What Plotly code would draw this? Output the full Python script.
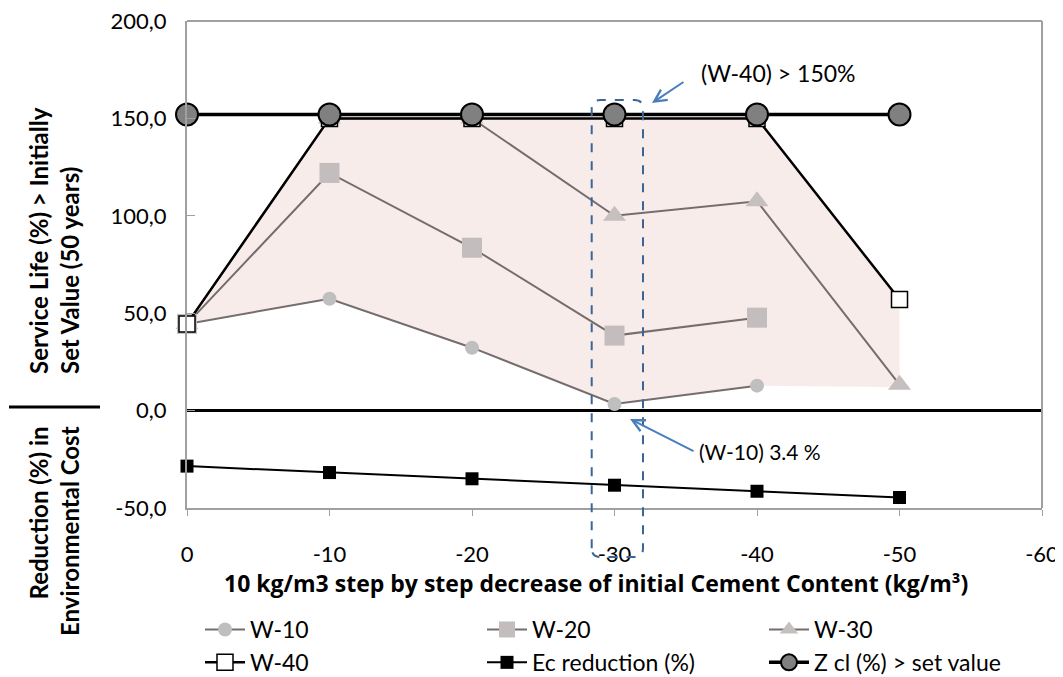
import plotly.graph_objects as go

# ---- data ----
steps = [0, -10, -20, -30, -40, -50]
w10 = [44.5, 57.4, 32.3, 3.4, 12.8, None]
w20 = [44.5, 122.0, 83.6, 38.5, 47.7, None]
w30 = [44.5, 150.0, 150.0, 100.0, 107.5, 13.3]
w40 = [44.5, 150.0, 150.0, 150.0, 150.0, 57.0]
ec_reduction = [-28.5, -31.8, -35.0, -38.3, -41.4, -44.6]
z_cl = [152.0, 152.0, 152.0, 152.0, 152.0, 152.0]
band_lower = [44.5, 57.4, 32.3, 3.4, 12.8, 12.0]  # lower edge of shaded band

y_ticks = [-50, 0, 50, 100, 150, 200]
y_ticktext = ["-50,0", "0,0", "50,0", "100,0", "150,0", "200,0"]
x_ticks = [0, -10, -20, -30, -40, -50, -60]
x_ticktext = ["0", "-10", "-20", "-30", "-40", "-50", "-60"]

FONT = "Lato"
BOLD_FONT = "Open Sans"
W_LINE = "#756D6D"
FRAME = "#A0A0A0"

# plot area in page pixels (page has an 8px body margin)
PL, PR, PT, PB = 187, 1042, 21, 508
PW, PH = PR - PL, PB - PT


def px(x):
    return (x - PL) / PW


def py(y):
    return (PB - y) / PH


fig = go.Figure()

# shaded band between W-40 and W-10
fig.add_trace(go.Scatter(
    x=steps + steps[::-1], y=w40 + band_lower[::-1],
    fill="toself", fillcolor="rgba(240,212,210,0.45)",
    line=dict(width=0), mode="lines", showlegend=False, hoverinfo="skip"))

fig.add_trace(go.Scatter(x=steps, y=w10, name="W-10", mode="lines+markers",
    line=dict(color=W_LINE, width=2),
    marker=dict(symbol="circle", size=14, color="#BFBFBF"), cliponaxis=False))
fig.add_trace(go.Scatter(x=steps, y=w20, name="W-20", mode="lines+markers",
    line=dict(color=W_LINE, width=2),
    marker=dict(symbol="square", size=20, color="#C4BDBD"), cliponaxis=False))
fig.add_trace(go.Scatter(x=steps, y=w30, name="W-30", mode="lines+markers",
    line=dict(color=W_LINE, width=2),
    marker=dict(symbol="triangle-up", size=20, color="#C6BFBF"), cliponaxis=False))
fig.add_trace(go.Scatter(x=steps, y=w40, name="W-40", mode="lines+markers",
    line=dict(color="black", width=2.5),
    marker=dict(symbol="square", size=16, color="white",
                line=dict(color="black", width=1.5)), cliponaxis=False))
fig.add_trace(go.Scatter(x=steps, y=ec_reduction, name="Ec reduction (%)",
    mode="lines+markers", line=dict(color="black", width=2),
    marker=dict(symbol="square", size=13, color="black"), cliponaxis=False))
fig.add_trace(go.Scatter(x=steps, y=z_cl, name="Z cl (%) > set value",
    mode="lines+markers", line=dict(color="black", width=3.5),
    marker=dict(symbol="circle", size=22, color="#808080",
                line=dict(color="black", width=2)), cliponaxis=False))

# plot frame: top and right edges (left/bottom are the axis lines)
fig.add_shape(type="line", xref="paper", yref="paper", x0=0, x1=1, y0=1, y1=1,
              line=dict(color=FRAME, width=2), layer="above")
fig.add_shape(type="line", xref="paper", yref="paper", x0=1, x1=1, y0=0, y1=1,
              line=dict(color=FRAME, width=2), layer="above")

# dashed rounded rectangle around -30 (x in data units, y in paper units)
x0, x1 = -28.4, -32.0
y0, y1 = py(557), py(100)
rx, ry = 0.6, 0.018
path = (f"M {x0},{y0+ry} L {x0},{y1-ry} Q {x0},{y1} {x0-rx},{y1} "
        f"L {x1+rx},{y1} Q {x1},{y1} {x1},{y1-ry} "
        f"L {x1},{y0+ry} Q {x1},{y0} {x1+rx},{y0} "
        f"L {x0-rx},{y0} Q {x0},{y0} {x0},{y0+ry} Z")
fig.add_shape(type="path", path=path, xref="x", yref="paper",
              line=dict(color="#3A6596", width=2, dash="dash"))

# separator line at left between the two y-titles
fig.add_shape(type="line", xref="paper", yref="paper",
              x0=px(9), x1=px(100), y0=py(407), y1=py(407),
              line=dict(color="black", width=3))

annotations = [
    dict(text="Service Life (%) > Initially<br>Set Value (50 years)",
         xref="paper", yref="paper", x=px(54), y=py(241),
         xanchor="center", yanchor="middle",
         textangle=-90, showarrow=False, align="left",
         font=dict(family=FONT, size=24, color="black", weight="bold")),
    dict(text="Reduction (%) in<br>Environmental Cost",
         xref="paper", yref="paper", x=px(54), y=py(531),
         xanchor="center", yanchor="middle",
         textangle=-90, showarrow=False, align="right",
         font=dict(family=FONT, size=24, color="black", weight="bold")),
    dict(text="10 kg/m3 step by step decrease of initial Cement Content (kg/m³)",
         xref="paper", yref="paper", x=px(596), y=py(583),
         xanchor="center", yanchor="middle", showarrow=False,
         font=dict(family=BOLD_FONT, size=23, color="black", weight="bold")),
    dict(text="(W-40) > 150%", xref="paper", yref="paper",
         x=px(778), y=py(73), xanchor="center", yanchor="middle",
         showarrow=False, font=dict(family=FONT, size=23, color="black")),
    dict(text="(W-10) 3.4 %", xref="paper", yref="paper",
         x=px(760), y=py(451), xanchor="center", yanchor="middle",
         showarrow=False, font=dict(family=FONT, size=21, color="black")),
    dict(text="", x=-32.63, y=157.9, xref="x", yref="y", ax=33, ay=-22,
         showarrow=True, arrowhead=5, arrowsize=1.2, arrowwidth=2,
         arrowcolor="#4A7EBB"),
    dict(text="", x=-31.09, y=-4.3, xref="x", yref="y", ax=65, ay=33,
         showarrow=True, arrowhead=5, arrowsize=1.2, arrowwidth=2,
         arrowcolor="#4A7EBB"),
]

FIG_W, FIG_H = 1055, 669
fig.update_layout(
    width=FIG_W, height=FIG_H,
    margin=dict(l=PL - 8, r=FIG_W - (PR - 8), t=PT - 8, b=FIG_H - (PB - 8),
                autoexpand=False),
    paper_bgcolor="white", plot_bgcolor="white",
    font=dict(family=FONT, size=21, color="black"),
    annotations=annotations,
    legend=dict(orientation="h", x=px(200), xanchor="left", y=py(608),
                yanchor="top", entrywidth=227, entrywidthmode="pixels",
                font=dict(family=FONT, size=23, color="black"),
                tracegroupgap=0, itemwidth=40),
    xaxis=dict(range=[0, -60], tickvals=x_ticks, ticktext=x_ticktext,
               showgrid=False, zeroline=False, showline=True,
               linecolor=FRAME, linewidth=2,
               ticks="outside", ticklen=6, tickcolor=FRAME,
               ticklabelstandoff=20, ticklabeloverflow="allow",
               tickfont=dict(size=22)),
    yaxis=dict(range=[-50, 200], tickvals=y_ticks, ticktext=y_ticktext,
               showgrid=False, zeroline=True, zerolinecolor="black",
               zerolinewidth=3, showline=True, linecolor=FRAME, linewidth=2,
               ticks="inside", ticklen=8,
               tickcolor=FRAME, ticklabelstandoff=14,
               ticklabeloverflow="allow", tickfont=dict(size=22)),
)

fig.write_html("out.html")
